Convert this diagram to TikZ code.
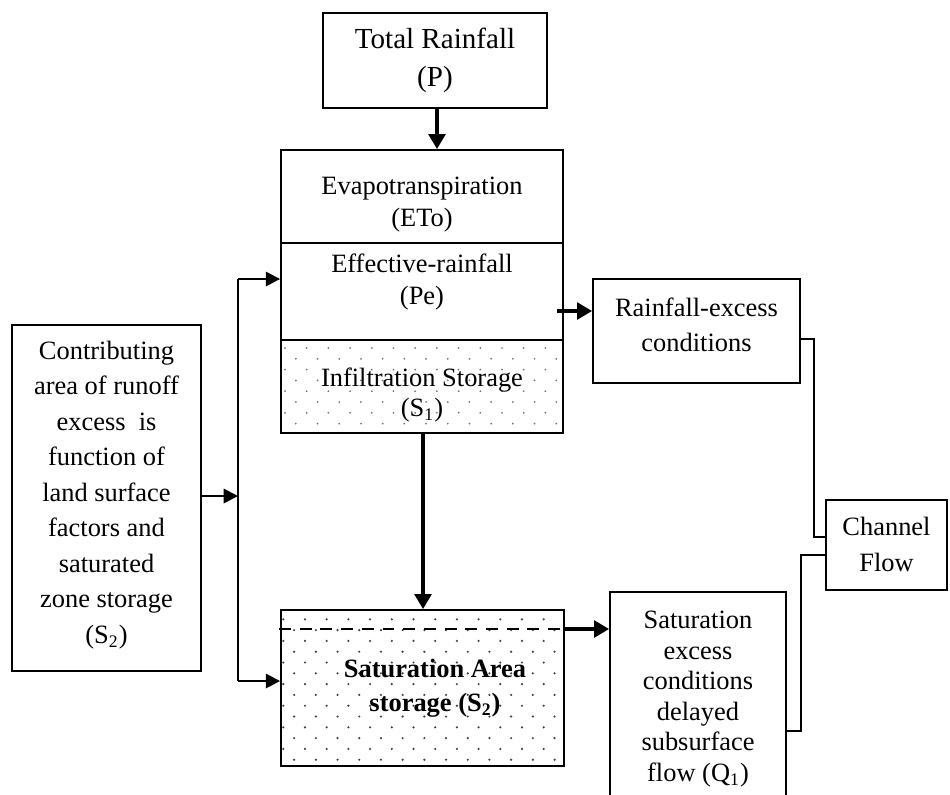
\documentclass[tikz,border=0pt]{standalone}
\usepackage{fontspec}
\setmainfont{Liberation Serif}
\usetikzlibrary{arrows.meta,calc}
\newcommand\pxl{0.454pt}
\begin{document}
\begin{tikzpicture}[x=0.454pt,y=-0.454pt,
  box/.style={draw,line width=0.85pt,inner sep=0pt},
  txt/.style={align=center,inner sep=0pt},
  arr/.style={line width=1.5pt,-{Triangle[length=6.8pt,width=7.6pt]}},
  arrb/.style={line width=1.1pt,-{Triangle[length=6.5pt,width=6.5pt]}},
  thinl/.style={line width=0.8pt},
  dotc/.style={fill=black!55},
  dotd/.style={fill=black!75},
  dashl/.style={line width=0.9pt,dash pattern=on 5.4pt off 4pt}
]
\useasboundingbox (0,0) rectangle (950,794);

% ---- boxes ----
\node[box,minimum width=224*\pxl,minimum height=95*\pxl] (rain) at (435,60.5) {};
\node[box,minimum width=282*\pxl,minimum height=93*\pxl] (evap) at (422,196.5) {};
\node[box,minimum width=282*\pxl,minimum height=97*\pxl] (eff) at (422,291.5) {};
\node[box,minimum width=282*\pxl,minimum height=93*\pxl] (infil) at (422,386.5) {};
\node[box,minimum width=283*\pxl,minimum height=156*\pxl] (sat) at (422.5,688) {};
\node[box,minimum width=189*\pxl,minimum height=346*\pxl] (contrib) at (106.5,498) {};
\node[box,minimum width=207*\pxl,minimum height=104*\pxl] (rex) at (696.5,331) {};
\node[box,minimum width=121*\pxl,minimum height=90*\pxl] (chan) at (886.5,545) {};
\begin{scope}
  \clip (0,0) rectangle (950,794);
  \node[box,minimum width=176*\pxl,minimum height=213*\pxl] (sex) at (698,698.5) {};
\end{scope}

% ---- dot patterns ----
\begin{scope}
  \clip (282,341) rectangle (562,432);
  \foreach \r in {0,...,8}
    \foreach \c in {0,...,13}
      \fill[dotc] ({285+21.7*\c+10.85*mod(\r,2)},{348+10.8*\r}) circle (0.45pt);
\end{scope}
\begin{scope}
  \clip (282,611) rectangle (563,765);
  \foreach \r in {0,...,14}
    \foreach \c in {0,...,13}
      \fill[dotd] ({283.3+21.7*\c+10.85*mod(\r,2)},{619.3+10.8*\r}) circle (0.55pt);
\end{scope}
\draw[dashl] (279,629) -- (sat.east |- 0,629);

% ---- texts ----
\node[txt,font=\fontsize{13.2}{17.3}\selectfont] (rainT) at (435,60) {Total Rainfall\\(P)};
\node[txt,font=\fontsize{12}{14.5}\selectfont] (evapT) at (422,205) {Evapotranspiration\\(ETo)};
\node[txt,font=\fontsize{12}{14.5}\selectfont] (effT) at (422,282) {Effective-rainfall\\(Pe)};
\node[txt,font=\fontsize{12}{13.6}\selectfont] (infilT) at (422,395) {Infiltration Storage\\(S\textsubscript{1})};
\node[txt,font=\fontsize{12}{15.4}\selectfont\bfseries] (satT) at (435,688) {Saturation Area\\storage (S\textsubscript{2})};
\node[txt,font=\fontsize{12}{16.1}\selectfont] (contribT) at (106.5,495)
  {Contributing\\area of runoff\\excess~ is\\function of\\land surface\\factors and\\saturated\\zone storage\\(S\textsubscript{2})};
\node[txt,font=\fontsize{12}{15.9}\selectfont] (rexT) at (696.5,325) {Rainfall-excess\\conditions};
\node[txt,font=\fontsize{12}{16.3}\selectfont] (chanT) at (886.5,544) {Channel\\Flow};
\node[txt,font=\fontsize{12}{13.9}\selectfont] (sexT) at (698,699)
  {Saturation\\excess\\conditions\\delayed\\subsurface\\flow (Q\textsubscript{1})};

% ---- connectors ----
\draw[arr] ([xshift=2*\pxl]rain.south) -- ([xshift=2*\pxl]rain.south |- evap.north);
\draw[arr] ([xshift=1*\pxl]infil.south) -- ([xshift=1*\pxl]infil.south |- sat.north);

\coordinate (bT) at (238,279);
\coordinate (bB) at (238,681);
\draw[thinl] (bT) -- (bB);
\draw[arrb] (bT) -- (eff.west |- bT);
\draw[arrb] (bB) -- (sat.west |- bB);
\draw[arrb] (contrib.east |- 0,496) -- (bT |- 0,496);

\coordinate (rexA) at ([yshift=20*\pxl]rex.west);
\draw[arr] ([xshift=-7*\pxl]eff.east |- rexA) -- (rexA);
\coordinate (sexA) at (sex.west |- 0,629);
\draw[arr] (sat.east |- sexA) -- (sexA);

\draw[thinl] ([yshift=-8*\pxl]rex.east) -- ++(13,0) |- ([yshift=8*\pxl]chan.west);
\draw[thinl] ([yshift=-32.5*\pxl]sex.east) -- ++(14,0) |- ([yshift=-10*\pxl]chan.west);
\end{tikzpicture}
\end{document}
